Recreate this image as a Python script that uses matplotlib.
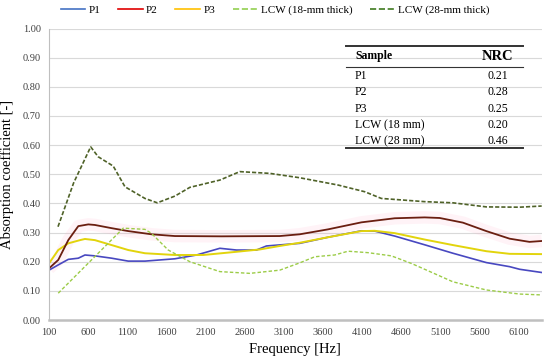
import numpy as np
import matplotlib
matplotlib.use("Agg")
import matplotlib.pyplot as plt
from matplotlib.lines import Line2D

plt.rcParams['font.family'] = ['Liberation Serif', 'DejaVu Serif']

# data (frequency in Hz, absorption coefficient)
f_p1 = [100, 218, 346, 474, 559, 686, 900, 1112, 1325, 1707, 1984, 2281, 2494, 2749, 2876,
        3301, 3663, 4088, 4258, 4513, 4896, 5257, 5683, 5980, 6108, 6390]
a_p1 = [0.171, 0.189, 0.208, 0.212, 0.223, 0.220, 0.212, 0.202, 0.202, 0.210, 0.223, 0.246,
        0.240, 0.240, 0.254, 0.263, 0.284, 0.306, 0.305, 0.288, 0.258, 0.229, 0.197, 0.183,
        0.174, 0.163]

f_p2 = [100, 218, 346, 474, 602, 686, 900, 1112, 1409, 1707, 2299, 3046, 3301, 3663, 4088,
        4513, 4896, 5087, 5384, 5683, 5980, 6234, 6390]
a_p2 = [0.177, 0.206, 0.274, 0.322, 0.328, 0.326, 0.315, 0.305, 0.294, 0.288, 0.287, 0.288,
        0.294, 0.311, 0.335, 0.349, 0.352, 0.350, 0.334, 0.305, 0.279, 0.268, 0.271]

f_p3 = [100, 218, 346, 496, 559, 686, 900, 1112, 1325, 1707, 2069, 2494, 2791, 3046, 3301,
        3663, 4088, 4258, 4513, 4896, 5257, 5683, 5980, 6390]
a_p3 = [0.194, 0.240, 0.263, 0.274, 0.278, 0.274, 0.257, 0.240, 0.229, 0.223, 0.223, 0.234,
        0.242, 0.254, 0.265, 0.284, 0.305, 0.306, 0.298, 0.276, 0.257, 0.236, 0.227, 0.226]

f_l18 = [218, 1048, 1325, 1409, 1622, 1898, 2281, 2664, 3046, 3301, 3493, 3747, 3917, 4173,
         4471, 4727, 4896, 5257, 5683, 6108, 6390]
a_l18 = [0.092, 0.315, 0.311, 0.297, 0.240, 0.200, 0.166, 0.160, 0.171, 0.196, 0.217, 0.223,
         0.236, 0.231, 0.220, 0.194, 0.174, 0.131, 0.103, 0.089, 0.086]

f_l28 = [215, 414, 632, 728, 920, 1070, 1325, 1482, 1707, 1898, 2281, 2536, 2919, 3301, 3790,
         4131, 4343, 4896, 5257, 5683, 6108, 6390]
a_l28 = [0.320, 0.470, 0.594, 0.560, 0.528, 0.457, 0.417, 0.402, 0.425, 0.455, 0.480, 0.509,
         0.503, 0.488, 0.463, 0.440, 0.417, 0.406, 0.402, 0.388, 0.387, 0.391]

samples = ['P1', 'P2', 'P3', 'LCW (18 mm)', 'LCW (28 mm)']
nrc = ['0.21', '0.28', '0.25', '0.20', '0.46']

legend_names = ['P1', 'P2', 'P3', 'LCW (18-mm thick)', 'LCW (28-mm thick)']
legend_cols = ['#4472c4', '#e00000', '#ffc000', '#92d050', '#3f7a1f']
legend_ls = ['-', '-', '-', '--', '--']

fig = plt.figure(figsize=(5.5, 3.62), dpi=100)
ax = fig.add_axes([49/550, 42/362, 492.7/550, 291.5/362])

ax.plot(f_p2, a_p2, color='#ff9ec0', lw=9, alpha=0.12, solid_capstyle='butt')
ax.plot(f_p1, a_p1, color='#4848c0', lw=1.2)
ax.plot(f_p3, a_p3, color='#e2d40c', lw=1.4)
ax.plot(f_p2, a_p2, color='#6a1e10', lw=1.3)
ax.plot(f_l18, a_l18, color='#9ccc48', lw=1.0, ls=(0, (2.5, 1.5)))
ax.plot(f_l28, a_l28, color='#4f6228', lw=1.2, ls=(0, (2.5, 1.2)))

ax.set_xlim(100, 6390)
ax.set_ylim(0, 1.0)
ax.set_xticks(np.arange(100, 6101, 500))
ax.set_yticks(np.arange(0, 1.01, 0.1))
ax.set_yticklabels([f'{v:.2f}' for v in np.arange(0, 1.01, 0.1)])
ax.tick_params(length=0, labelsize=7.5, colors='#404040', pad=6)
ax.grid(axis='y', color='#d9d9d9', lw=0.8)
ax.set_axisbelow(True)
for s in ['top', 'right']:
    ax.spines[s].set_visible(False)
ax.spines['left'].set_color('#bfbfbf')
ax.spines['bottom'].set_color('#bfbfbf')
ax.spines['bottom'].set_linewidth(1.8)

ax.set_xlabel('Frequency [Hz]', fontsize=10.5, labelpad=4)
ax.set_ylabel('Absorption coefficient [-]', fontsize=10.5, labelpad=6)

handles = [Line2D([], [], color=c, ls=l, lw=1.2) for c, l in zip(legend_cols, legend_ls)]
fig.legend(handles, legend_names, loc='center', bbox_to_anchor=(0.5, 1 - 10/362), ncol=5,
           frameon=False, fontsize=8, handlelength=2.2, handletextpad=0.3, columnspacing=1.6)

# NRC table
def px(x, y):
    return x / 550, 1 - y / 362

x0, x1 = px(346, 0)[0], px(523, 0)[0]
for yy, w in [(46, 1.4), (67, 0.8), (148.5, 1.4)]:
    fig.add_artist(Line2D([x0, x1], [px(0, yy)[1]] * 2, color='#333333', lw=w))
fig.text(*px(355, 56.5), 'Sample', fontsize=8.5, weight='bold', va='center', ha='left')
fig.text(*px(498, 57), 'NRC', fontsize=10.5, weight='bold', va='center', ha='center')
for i, (s, n) in enumerate(zip(samples, nrc)):
    yy = 76 + i * 16.3
    fig.text(*px(355, yy), s, fontsize=8.5, va='center', ha='left')
    fig.text(*px(498, yy), n, fontsize=8.5, va='center', ha='center')

fig.savefig('out.png', dpi=100)
